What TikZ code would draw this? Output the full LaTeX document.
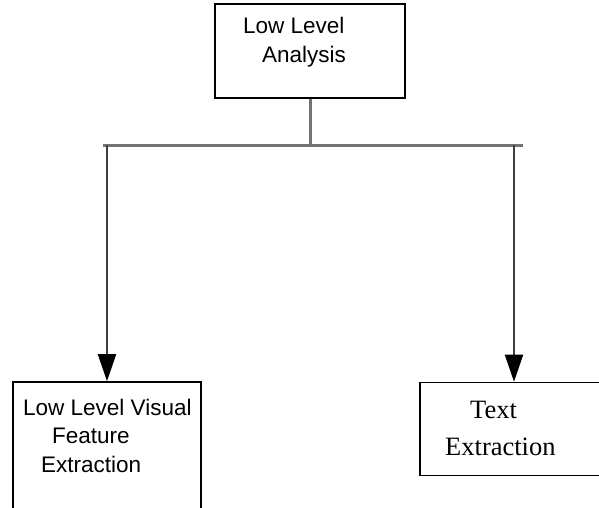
\documentclass[tikz,border=0pt]{standalone}
\usepackage{fontspec}
\setmainfont{Liberation Sans}
\newfontfamily\timesfont{Liberation Serif}
\usetikzlibrary{arrows.meta}
\begin{document}
\begin{tikzpicture}[x=1pt,y=-1pt,
  box/.style={draw=black,line width=1.6pt,inner sep=0pt,fill=white},
  bus/.style={draw=black!55,line width=3pt},
  feed/.style={draw=black!75,line width=2pt,-{Triangle[length=27pt,width=18pt,fill=black,color=black]}},
  sanslabel/.style={font=\fontsize{22.5}{24}\selectfont,inner sep=0pt,anchor=base west},
  seriflabel/.style={font=\timesfont\fontsize{26.5}{30}\selectfont,inner sep=0pt,anchor=base west}]
\useasboundingbox (0,0) rectangle (599,507);
\fill[white] (0,0) rectangle (599,507);

% boxes
\node[box,minimum width=190pt,minimum height=94pt] (top) at (310,51) {};
\node[box,minimum width=188pt,minimum height=140pt] (left) at (107,452) {};
\node[box,minimum width=184pt,minimum height=93pt] (right) at (512,429) {};

% box texts
\node[sanslabel] (t1) at (243,33) {Low Level};
\node[sanslabel] (t2) at (262,62) {Analysis};
\node[sanslabel] (l1) at (23,415) {Low Level Visual};
\node[sanslabel] (l2) at (52,443) {Feature};
\node[sanslabel] (l3) at (41,472) {Extraction};
\node[seriflabel] (r1) at (470,418) {Text};
\node[seriflabel] (r2) at (445,455) {Extraction};

% branching connectors
\coordinate (split) at (310,145);
\coordinate (lbend) at (107,145);
\coordinate (rbend) at (514,145);
\coordinate (lend) at (103,145);
\coordinate (rend) at (523,145);
\draw[bus] (top.south) -- (split);
\draw[bus] (lend) -- (rend);
\draw[feed] (lbend) -- (lbend |- left.north);
\draw[feed] (rbend) -- (rbend |- right.north);
\end{tikzpicture}
\end{document}
